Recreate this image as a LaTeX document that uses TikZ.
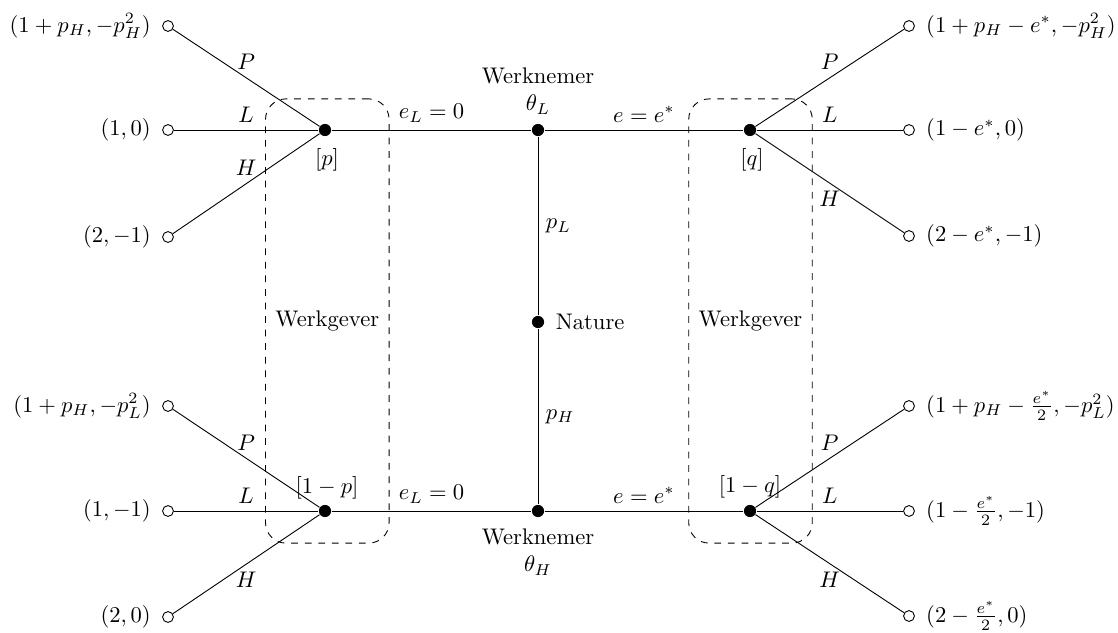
\documentclass[tikz,border=0pt]{standalone}
\begin{document}
\begin{tikzpicture}[x=0.01557cm,y=-0.01557cm,
  dec/.style={circle,fill=black,inner sep=0pt,minimum size=5.4pt},
  term/.style={circle,draw,fill=white,inner sep=0pt,minimum size=4.8pt},
  infoset/.style={draw,dashed,rounded corners=9pt,minimum width=54.7pt,minimum height=196.7pt},
  tl/.style={label distance=1.5pt}]
\useasboundingbox (0,0) rectangle (1118,633);
% information sets
\node[infoset] (IS1) at (327.3,321) {Werkgever};
\node[infoset] (IS2) at (750.5,321) {Werkgever};
% decision nodes
\node[dec] (N) at (538,322) {};
\node[dec] (WL) at (538,130) {};
\node[dec] (WH) at (538,511) {};
\node[dec] (A) at (325,130) {};
\node[dec] (B) at (325,511) {};
\node[dec] (C) at (750,130) {};
\node[dec] (D) at (750,511) {};
% terminals
\node[term,label={[tl]left:$(1+p_H,-p_H^2)$}] (A1) at (168,26) {};
\node[term,label={[tl]left:$(1,0)$}] (A2) at (168,130) {};
\node[term,label={[tl]left:$(2,-1)$}] (A3) at (168,237) {};
\node[term,label={[tl]left:$(1+p_H,-p_L^2)$}] (B1) at (168,406) {};
\node[term,label={[tl]left:$(1,-1)$}] (B2) at (168,511) {};
\node[term,label={[tl]left:$(2,0)$}] (B3) at (168,617) {};
\node[term,label={[tl]right:$(1+p_H-e^*,-p_H^2)$}] (C1) at (909,26) {};
\node[term,label={[tl]right:$(1-e^*,0)$}] (C2) at (909,130) {};
\node[term,label={[tl]right:$(2-e^*,-1)$}] (C3) at (909,236) {};
\node[term,label={[tl]right:$(1+p_H-\frac{e^*}{2},-p_L^2)$}] (D1) at (909,406) {};
\node[term,label={[tl]right:$(1-\frac{e^*}{2},-1)$}] (D2) at (909,511) {};
\node[term,label={[tl]right:$(2-\frac{e^*}{2},0)$}] (D3) at (909,616) {};
% edges
\draw (WL) -- node[right] {$p_L$} (N);
\draw (N) -- node[right] {$p_H$} (WH);
\draw (A) -- node[above] {$e_L=0$} (WL);
\draw (WL) -- node[above] {$e=e^*$} (C);
\draw (B) -- node[above] {$e_L=0$} (WH);
\draw (WH) -- node[above] {$e=e^*$} (D);
\draw (A) -- node[above] {$P$} (A1);
\draw (A) -- node[above] {$L$} (A2);
\draw (A) -- node[above] {$H$} (A3);
\draw (B) -- node[above] {$P$} (B1);
\draw (B) -- node[above] {$L$} (B2);
\draw (B) -- node[below] {$H$} (B3);
\draw (C) -- node[above] {$P$} (C1);
\draw (C) -- node[above] {$L$} (C2);
\draw (C) -- node[below] {$H$} (C3);
\draw (D) -- node[above] {$P$} (D1);
\draw (D) -- node[above] {$L$} (D2);
\draw (D) -- node[below] {$H$} (D3);
% labels
\node (Ap) at (327,160) {$[p]$};
\node (Bp) at (327,488) {$[1-p]$};
\node (Cq) at (752,160) {$[q]$};
\node (Dq) at (750,487) {$[1-q]$};
\node[anchor=west] (Nl) at (548,322) {Nature};
\node[align=center] (WLl) at (538,91) {Werknemer\\$\theta_L$};
\node[align=center] (WHl) at (538,552) {Werknemer\\$\theta_H$};
\end{tikzpicture}
\end{document}
